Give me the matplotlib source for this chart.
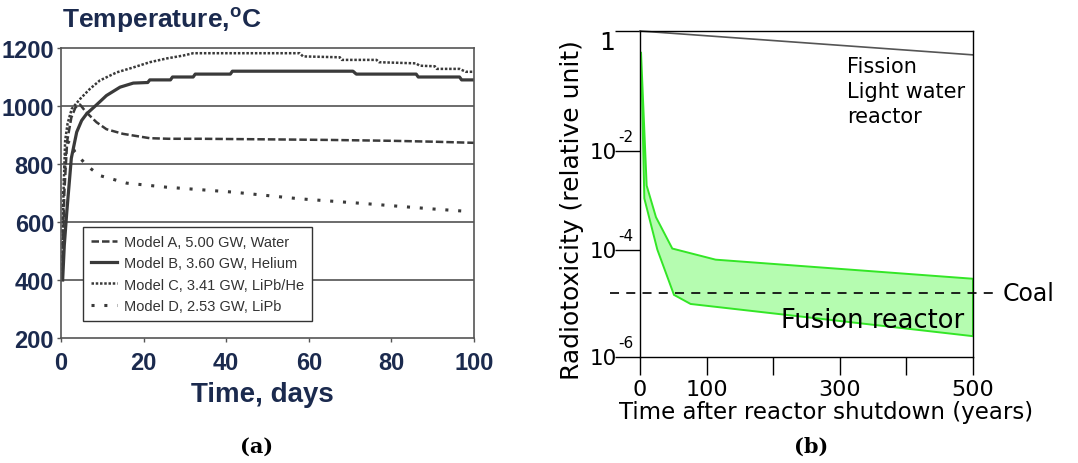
import matplotlib.pyplot as plt
import numpy as np

W, H = 1078, 464

# ---- panel (a): blanket temperature vs time
days_a = [0.3, 0.8, 1.5, 2.5, 3.5, 4.6, 6.0, 8.6, 11.0, 15.0, 21.5, 26.0, 33.6, 50.0, 65.0, 80.0, 90.0, 100.0]
temp_a = [400, 700, 880, 960, 995, 1005, 980, 944, 920, 904, 889, 887, 887, 885, 883, 880, 877, 873]

days_b = [0.4, 0.8, 1.4, 2.5, 3.8, 5.0, 6.2, 8.6, 11.0, 14.3, 17.5, 21.0, 21.5, 26.5, 27.0, 32.0, 32.5,
          41.0, 41.5, 70.7, 71.5, 86.0, 86.5, 96.5, 97.0, 100.0]
temp_b = [400, 520, 634, 820, 910, 950, 973, 1004, 1036, 1065, 1079, 1081, 1090, 1090, 1100, 1100, 1110,
          1110, 1120, 1120, 1110, 1110, 1100, 1100, 1090, 1090]

days_c = [0.3, 0.6, 1.0, 1.6, 2.6, 4.6, 7.0, 9.4, 13.5, 17.5, 21.5, 25.6, 29.6, 32.0, 57.8, 58.6, 67.5, 68.0,
          76.4, 77.0, 86.0, 86.8, 90.5, 91.0, 96.5, 98.0, 100.0]
temp_c = [420, 700, 880, 940, 990, 1024, 1059, 1088, 1116, 1133, 1151, 1164, 1174, 1182, 1182, 1171, 1168, 1159,
          1159, 1151, 1147, 1139, 1137, 1128, 1128, 1118, 1118]

days_d = [0.3, 0.6, 1.2, 2.0, 3.4, 6.2, 9.4, 15.9, 25.6, 41.7, 57.8, 74.0, 90.0, 99.0]
temp_d = [430, 700, 860, 880, 841, 795, 760, 734, 720, 703, 680, 663, 645, 636]

labels_a = ['Model A, 5.00 GW, Water', 'Model B, 3.60 GW, Helium',
            'Model C, 3.41 GW, LiPb/He', 'Model D, 2.53 GW, LiPb']

# ---- panel (b): radiotoxicity after shutdown
fission_t = [0, 500]
fission_r = [1.0, 0.40]

upper_t = [1.5, 10, 24, 48.5, 113.5, 500]
upper_r = [0.45, 2.0e-3, 4.6e-4, 1.07e-4, 6.6e-5, 2.9e-5]
lower_t = [1.5, 6.5, 26, 51, 76, 500]
lower_r = [0.45, 1.1e-3, 1.02e-4, 1.45e-5, 9.8e-6, 2.45e-6]
coal_r = 1.6e-5

ytick_b = [1e-2, 1e-4, 1e-6]
ytick_exp = ['-2', '-4', '-6']

navy = '#1b2a4e'
ink = '#3a3a3a'

fig = plt.figure(figsize=(W / 100, H / 100), dpi=100)


def px_axes(x0, y0, x1, y1):
    return fig.add_axes([x0 / W, 1 - y1 / H, (x1 - x0) / W, (y1 - y0) / H])


# ================= (a)
ax = px_axes(61, 49, 474, 339)
ax.plot(days_a, temp_a, color=ink, lw=1.8, dashes=(3, 1.2), label=labels_a[0])
ax.plot(days_b, temp_b, color=ink, lw=2.3, label=labels_a[1])
ax.plot(days_c, temp_c, color=ink, lw=1.8, dashes=(1, 0.7), label=labels_a[2])
ax.plot(days_d, temp_d, color=ink, lw=2.2, dashes=(1, 3.2), label=labels_a[3])
ax.set_xlim(0, 100)
ax.set_ylim(200, 1200)
ax.set_xticks([0, 20, 40, 60, 80, 100])
ax.set_yticks([200, 400, 600, 800, 1000, 1200])
for v in [400, 600, 800, 1000]:
    ax.axhline(v, color='#444444', lw=1.1, zorder=0)
for s in ax.spines.values():
    s.set_color('#555555')
    s.set_linewidth(1.2)
ax.tick_params(length=3, width=1, color='#555555', pad=2)
for t in ax.get_xticklabels() + ax.get_yticklabels():
    t.set_fontfamily('Liberation Sans')
    t.set_fontweight('bold')
    t.set_fontsize(17)
    t.set_color(navy)
ax.tick_params(axis='x', pad=6)
fig.text(262 / W, 1 - 395 / H, 'Time, days', fontfamily='Liberation Sans', fontweight='bold', fontsize=20,
         color=navy, ha='center', va='center')
fig.text(62 / W, 1 - 28 / H, r'Temperature,$^{\mathregular{o}}$C', fontfamily='Liberation Sans',
         fontweight='bold', fontsize=19, color=navy, va='baseline', ha='left')
leg = ax.legend(loc='upper left', bbox_to_anchor=(0.053, 0.383), borderaxespad=0,
                prop={'family': 'Liberation Sans', 'size': 10.5},
                handlelength=1.8, handletextpad=0.45, labelspacing=0.5, borderpad=0.55,
                fancybox=False, framealpha=1, edgecolor='#333333')
leg.get_frame().set_linewidth(1.0)
for t in leg.get_texts():
    t.set_color('#333333')
fig.text(257 / W, 1 - 447 / H, '(a)', fontfamily='DejaVu Serif', fontweight='bold', fontsize=15,
         ha='center', va='center')

# ================= (b)
yk = [-6, -4, -2, 0]
yp = [0, 107, 206, 326]


def fwd(y):
    return np.interp(np.log10(np.maximum(y, 1e-300)), yk, yp)


def inv(v):
    return 10 ** np.interp(v, yp, yk)


bx = px_axes(640, 32, 973, 358)
bx.set_yscale('function', functions=(fwd, inv))
bx.set_xlim(0, 500)
bx.set_ylim(1e-6, 1)
bx.plot(fission_t, fission_r, color='#555555', lw=1.2, clip_on=False)
# band: polygon from the upper edge out and the lower edge back
poly_t = upper_t + lower_t[::-1]
poly_r = upper_r + lower_r[::-1]
bx.fill(poly_t, poly_r, facecolor='#b5fcb0', edgecolor='#33e626', lw=1.4)
bx.plot([-45, 532], [coal_r, coal_r], color='#111111', lw=1.3, dashes=(5, 4), clip_on=False)
bx.set_yticks([1] + ytick_b)
bx.set_yticklabels([])
bx.yaxis.set_minor_locator(plt.NullLocator())
bx.set_xticks([0, 100, 200, 300, 400, 500])
bx.set_xticklabels(['0', '100', '', '300', '', '500'])
bx.tick_params(axis='y', length=18, width=1, pad=2)
bx.tick_params(axis='x', length=13, width=1, pad=3, labelsize=16)
for s in bx.spines.values():
    s.set_linewidth(1.0)

# y tick labels drawn by hand: "10" left of the tick, exponent sitting above the tick
bx.annotate('1', xy=(0, 1), xycoords=('axes fraction', 'data'), xytext=(-18, 1), textcoords='offset points',
            fontsize=18, ha='right', va='top', annotation_clip=False)
for v, e in zip(ytick_b, ytick_exp):
    bx.annotate('10', xy=(0, v), xycoords=('axes fraction', 'data'), xytext=(-16.5, -1),
                textcoords='offset points', fontsize=15.5, ha='right', va='center', annotation_clip=False)
    bx.annotate(e, xy=(0, v), xycoords=('axes fraction', 'data'), xytext=(-15.5, 5),
                textcoords='offset points', fontsize=11, ha='left', va='bottom', annotation_clip=False)

fig.text(826 / W, 1 - 413 / H, 'Time after reactor shutdown (years)', fontsize=16.5, ha='center', va='center')
fig.text(572 / W, 1 - 210 / H, 'Radiotoxicity (relative unit)', fontsize=18, rotation=90,
         ha='center', va='center')
bx.text(847 / W, 1 - 57 / H, 'Fission\nLight water\nreactor', transform=fig.transFigure,
        fontsize=15, va='top', ha='left', linespacing=1.3)
bx.text(0.973, 0.092, 'Fusion reactor', transform=bx.transAxes, fontsize=18.5, ha='right', va='baseline')
bx.text(1.09, fwd(coal_r) / 326, 'Coal', transform=bx.transAxes, fontsize=17, ha='left', va='center')
fig.text(811 / W, 1 - 447 / H, '(b)', fontfamily='DejaVu Serif', fontweight='bold', fontsize=15,
         ha='center', va='center')

fig.savefig('out.png', dpi=100)
